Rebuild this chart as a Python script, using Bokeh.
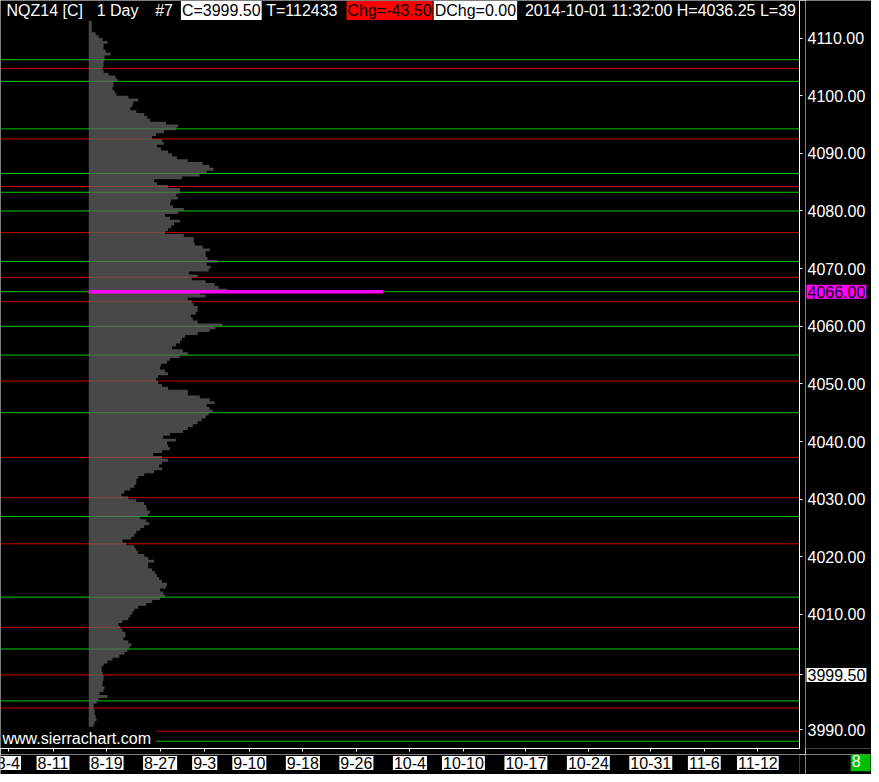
import numpy as np
from bokeh.plotting import figure
from bokeh.layouts import row, column
from bokeh.models import Range1d, FixedTicker, Label
from bokeh.embed import file_html
from bokeh.resources import INLINE

# ---------------- data ----------------
profile_top = 4112.5          # lower edge of the highest 0.5-point bin
profile_step = 0.5
# relative volume per 0.5-point bin, from 4112.5 down to 3990.5
profile_volume = [
    3, 3, 3, 3, 7, 10, 14, 19, 15, 15,
    17, 22, 16, 16, 15, 15, 14, 15, 20, 27,
    29, 25, 25, 24, 26, 28, 40, 50, 45, 44,
    42, 48, 56, 59, 62, 78, 90, 88, 76, 68,
    64, 74, 76, 69, 73, 80, 84, 89, 100, 115,
    122, 126, 119, 112, 94, 66, 69, 80, 92, 92,
    88, 90, 83, 82, 85, 96, 90, 77, 82, 92,
    86, 83, 80, 77, 96, 106, 106, 107, 115, 122,
    118, 118, 120, 130, 119, 123, 121, 101, 110, 104,
    118, 127, 131, 140, 112, 118, 100, 104, 106, 110,
    110, 108, 103, 105, 110, 135, 128, 122, 110, 97,
    94, 92, 88, 84, 95, 100, 92, 82, 79, 73,
    72, 77, 80, 70, 68, 70, 74, 80, 100, 100,
    112, 122, 127, 119, 122, 125, 121, 118, 114, 110,
    105, 100, 95, 82, 75, 88, 79, 80, 82, 74,
    65, 74, 80, 74, 71, 74, 66, 56, 50, 48,
    48, 46, 42, 36, 33, 40, 48, 56, 58, 59,
    62, 60, 52, 58, 61, 56, 52, 48, 46, 43,
    34, 38, 46, 48, 50, 56, 60, 66, 60, 60,
    64, 67, 69, 71, 74, 79, 78, 72, 75, 77,
    72, 64, 58, 50, 46, 44, 42, 40, 34, 30,
    32, 34, 37, 37, 35, 40, 43, 41, 39, 36,
    31, 24, 19, 15, 13, 13, 14, 15, 15, 14,
    14, 16, 15, 11, 19, 10, 8, 5, 5, 6,
    6, 7, 8, 6, 5,
]
green_levels = [4106.25, 4102.5, 4094.25, 4086.5, 4083.25, 4080.0, 4071.25, 4066.0,
                4060.0, 4055.0, 4045.0, 4027.0, 4013.0, 4004.0, 3995.0, 3988.0]
red_levels = [4104.75, 4092.5, 4084.25, 4076.25, 4068.5, 4064.25, 4050.5, 4037.25,
              4030.25, 4022.25, 4007.75, 3999.5, 3993.75, 3989.75]
poc_price = 4066.00
close_price = 3999.50
profile_first_bar = 9
last_bar = 42
date_labels = ["8-4", "8-11", "8-19", "8-27", "9-3", "9-10", "9-18", "9-26",
               "10-4", "10-10", "10-17", "10-24", "10-31", "11-6", "11-12"]
date_bars = [0, 5, 11, 17, 22, 27, 33, 39, 45, 51, 58, 65, 72, 78, 84]
price_ticks = [3990, 4010, 4020, 4030, 4040, 4050, 4060, 4070, 4080, 4090, 4100, 4110]

header_plain = [("NQZ14 [C]", 5), ("1 Day", 96), ("#7", 155), ("T=112433", 267),
                ("2014-10-01 11:32:00 H=4036.25 L=39", 528)]
header_boxed = [("C=3999.50", 182, "white"), ("Chg=-43.50", 349, "#ff0000"),
                ("DChg=0.00", 437, "white")]
status_text = "8"
watermark = "www.sierrachart.com"

# ---------------- layout ----------------
REF_W, REF_H = 879, 782
W, H = 871, 774
KX, KY = W / REF_W, H / REF_H
FRAME_W = round(806 * KX)        # 799
FRAME_H = round(756 * KY)        # 748
GAP = 6                          # room for the axis ticks
MAIN_W, MAIN_H = FRAME_W + GAP, FRAME_H + GAP
SIDE_W, BOT_H = W - MAIN_W, H - MAIN_H
BAR0_PX, PX_PER_BAR = 8.0, 9.0
REF_PRICE, REF_PRICE_PX, PX_PER_PT = 4110.0, 38.0, 5.825


def xd(px):
    return (px - BAR0_PX) / PX_PER_BAR


def yd(py):
    return REF_PRICE - (py - REF_PRICE_PX) / PX_PER_PT


GREEN = "#00c800"
RED = "#cc0000"
MAGENTA = "#ff00ff"
FONT = "Liberation Sans"
FS = "16px"

x_range = Range1d(xd(0), xd(806))
y_range = Range1d(yd(756), yd(0))
x_start, x_end = x_range.start, x_range.end


def base_fig(w, h, xr, yr, **kw):
    f = figure(width=w, height=h, x_range=xr, y_range=yr,
               output_backend="svg", toolbar_location=None, tools="",
               background_fill_color="black", border_fill_color="black",
               outline_line_color=None, **kw)
    f.xgrid.visible = False
    f.ygrid.visible = False
    return f


p = base_fig(MAIN_W, MAIN_H, x_range, y_range, y_axis_location="right",
             min_border_left=0, min_border_top=0,
             min_border_right=GAP, min_border_bottom=GAP)

# x axis (dates): line and ticks
xa = p.xaxis[0]
xa.ticker = FixedTicker(ticks=date_bars)
xa.major_label_overrides = {b: "" for b in date_bars}
xa.major_label_text_font_size = "1px"
xa.major_label_standoff = 0
xa.axis_line_color = "white"
xa.major_tick_line_color = "white"
xa.major_tick_out = 3
xa.major_tick_in = 0
xa.minor_tick_line_color = None

# y axis (prices): line and ticks
ya = p.yaxis[0]
ya.ticker = FixedTicker(ticks=price_ticks + [close_price])
ya.major_label_overrides = {t: "" for t in price_ticks + [close_price]}
ya.major_label_text_font_size = "1px"
ya.major_label_standoff = 0
ya.axis_line_color = "white"
ya.major_tick_line_color = "white"
ya.major_tick_out = 3
ya.major_tick_in = 0
ya.minor_tick_line_color = None

# horizontal levels
p.segment(x0=[x_start] * len(green_levels), y0=green_levels,
          x1=[x_end] * len(green_levels), y1=green_levels,
          line_color=GREEN, line_width=1)
p.segment(x0=[x_start] * len(red_levels), y0=red_levels,
          x1=[x_end] * len(red_levels), y1=red_levels,
          line_color=RED, line_width=1)

# volume profile as one step polygon
levels = profile_top - profile_step * np.arange(len(profile_volume))
px_x = [profile_first_bar]
px_y = [levels[0] + profile_step]
for lv, v in zip(levels, profile_volume):
    r = profile_first_bar + v / PX_PER_BAR
    px_x += [r, r]
    px_y += [lv + profile_step, lv]
px_x.append(profile_first_bar)
px_y.append(levels[-1])
p.patch(px_x, px_y, fill_color="#656565", fill_alpha=0.71, line_color=None)

# point of control
p.line([profile_first_bar, last_bar], [poc_price, poc_price],
       line_color=MAGENTA, line_width=3.5)


def make_label(fig, x, y, text, color="white", bg=None, align="left"):
    fig.add_layout(Label(x=x, y=y, text=text, text_color=color,
                         text_font=FONT, text_font_size=FS, text_align=align,
                         text_baseline="middle", background_fill_color=bg,
                         padding=1))


# header
for txt, px in header_plain:
    make_label(p, xd(px), yd(10), txt)
for txt, px, bg in header_boxed:
    make_label(p, xd(px), yd(10), txt, color="black", bg=bg)

# watermark
make_label(p, xd(1), yd(746), watermark + " ", color="white", bg="black")

# ---- side panel with price labels (shares the price scale) ----
side = base_fig(SIDE_W, MAIN_H, Range1d(0, SIDE_W), y_range,
                x_axis_location=None, y_axis_location=None,
                min_border_left=0, min_border_top=0, min_border_right=0,
                min_border_bottom=GAP)
for t in price_ticks:
    make_label(side, 1, t, "%.2f" % t)
make_label(side, 1, poc_price, "%.2f" % poc_price, color="black", bg=MAGENTA)
make_label(side, 1, close_price, "%.2f" % close_price, color="black", bg="white")

# ---- bottom strip with date labels (shares the bar scale) ----
bottom = base_fig(MAIN_W, BOT_H, x_range, Range1d(0, BOT_H),
                  x_axis_location=None, y_axis_location=None,
                  min_border_left=0, min_border_top=0, min_border_right=GAP,
                  min_border_bottom=0)
date_y = BOT_H - (770.5 * KY - MAIN_H)
for txt, b in zip(date_labels, date_bars):
    make_label(bottom, b, date_y, txt, color="black", bg="white", align="center")

# ---- corner with status box ----
corner = base_fig(SIDE_W, BOT_H, Range1d(0, SIDE_W), Range1d(0, BOT_H),
                  x_axis_location=None, y_axis_location=None,
                  min_border_left=0, min_border_top=0, min_border_right=0,
                  min_border_bottom=0)
make_label(corner, 868 * KX - MAIN_W, BOT_H - (769 * KY - MAIN_H),
           " " + status_text + " ", color="white", bg="#00c000", align="center")

layout = column(row(p, side, spacing=0), row(bottom, corner, spacing=0), spacing=0)

open("out.html", "w").write(file_html(layout, INLINE))
